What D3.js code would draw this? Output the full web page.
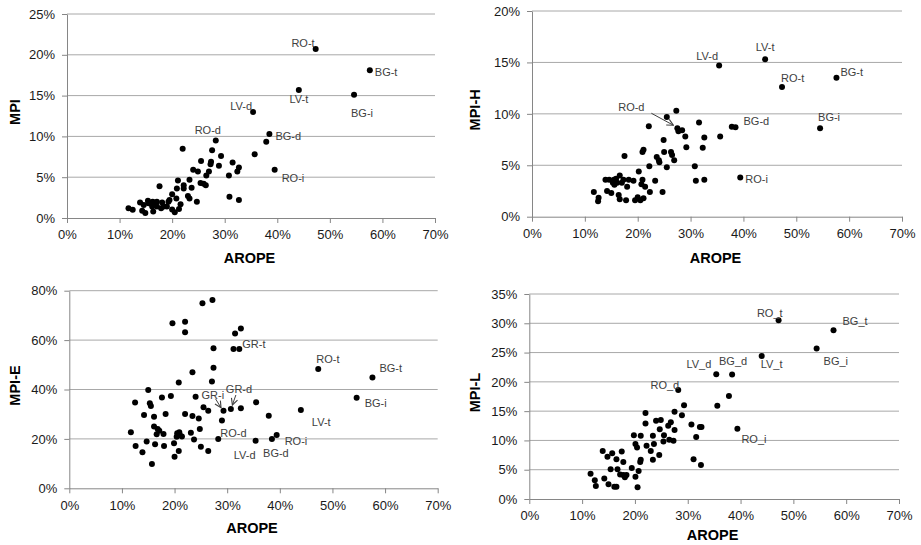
<!DOCTYPE html>
<html>
<head>
<meta charset="utf-8">
<script src="https://cdn.jsdelivr.net/npm/d3@7"></script>
<style>
  body { margin: 0; background: #fff; }
  svg { display: block; font-family: "Liberation Sans", Arial, sans-serif; }
  .tick text { font-size: 13px; fill: #1a1a1a; }
  .axis-title { font-size: 14.5px; font-weight: bold; fill: #000; }
  .pt-label { font-size: 11px; fill: #404040; }
</style>
</head>
<body>
<div id="chart"></div>
<script>
// values in percent, [AROPE, indicator]
const mpiPoints = [
  [11.7, 1.2], [12.5, 1.0], [13.9, 1.9], [14.3, 0.9], [14.6, 1.6], [14.9, 0.6], [15.4, 2.1], [15.5, 1.8],
  [16.2, 1.4], [16.3, 2.0], [16.4, 0.8], [16.5, 1.6], [17.1, 2.0], [17.1, 1.4], [17.6, 3.9], [17.9, 1.2],
  [18.1, 1.9], [18.4, 1.4], [19.0, 1.4], [19.3, 2.0], [19.5, 2.2], [20.0, 2.9], [20.0, 1.05], [20.5, 0.7],
  [20.8, 2.4], [20.9, 3.6], [21.1, 4.6], [21.3, 1.1], [21.6, 1.7], [22.0, 8.5], [22.2, 4.0], [22.2, 3.6],
  [23.0, 2.7], [23.3, 2.4], [23.3, 4.7], [23.7, 3.7], [24.0, 5.9], [24.7, 2.0], [24.9, 5.7], [25.4, 4.3],
  [25.5, 7.0], [26.0, 4.2], [26.4, 4.0], [26.5, 5.2], [27.0, 5.7], [27.3, 6.6], [27.4, 6.9], [27.6, 8.3],
  [28.3, 9.5], [28.9, 6.4], [29.3, 7.6], [30.8, 5.2], [30.9, 2.6], [31.5, 6.8], [32.4, 5.7], [32.7, 6.2],
  [32.7, 2.2], [35.4, 13.0], [35.7, 7.8], [37.9, 9.35], [38.5, 10.3], [39.5, 5.9], [44.1, 15.7],
  [47.3, 20.7], [54.6, 15.1], [57.6, 18.1]
];
const mpiLabels = [
  ['RO-t', 47.3, 20.7], ['BG-t', 57.6, 18.1], ['LV-t', 44.1, 15.7], ['BG-i', 54.6, 15.1],
  ['LV-d', 35.4, 13.0], ['RO-d', 28.3, 9.5], ['BG-d', 38.5, 10.3], ['RO-i', 39.5, 5.9]
];

const mpiHPoints = [
  [11.7, 2.4], [12.5, 1.5], [12.6, 1.85], [13.9, 3.6], [14.2, 2.5], [14.6, 3.6], [15.0, 2.3], [15.3, 3.3],
  [15.5, 3.6], [15.6, 3.1], [15.9, 3.7], [16.1, 3.3], [16.4, 2.1], [16.6, 4.0], [16.6, 1.7], [17.0, 3.3],
  [17.3, 3.6], [17.5, 5.9], [17.8, 1.6], [18.0, 2.9], [18.3, 3.6], [19.2, 3.5], [19.5, 1.6], [20.0, 1.9],
  [20.2, 4.4], [20.5, 1.6], [20.7, 3.15], [20.9, 3.6], [20.9, 6.3], [21.1, 6.5], [21.1, 1.8], [21.4, 2.9],
  [22.1, 8.8], [22.2, 4.9], [22.3, 2.4], [23.3, 3.5], [23.6, 5.8], [24.0, 5.5], [24.1, 5.3], [24.7, 2.4],
  [24.9, 7.45], [25.0, 6.3], [25.5, 4.8], [25.5, 9.7], [26.3, 6.3], [26.5, 6.0], [26.9, 5.5], [27.3, 10.3],
  [27.5, 8.6], [27.7, 8.3], [28.4, 8.4], [29.0, 7.8], [29.2, 6.75], [30.8, 4.9], [31.0, 3.5], [31.6, 9.15],
  [32.3, 6.7], [32.6, 7.7], [32.6, 3.6], [35.4, 14.7], [35.6, 7.8], [37.8, 8.75], [38.5, 8.7], [39.4, 3.8],
  [44.1, 15.3], [47.3, 12.6], [54.5, 8.6], [57.6, 13.5]
];
const mpiHLabels = [
  ['RO-d', 27.5, 8.6], ['LV-d', 35.4, 14.7], ['LV-t', 44.1, 15.3], ['RO-t', 47.3, 12.6],
  ['BG-t', 57.6, 13.5], ['BG-d', 38.5, 8.7], ['BG-i', 54.5, 8.6], ['RO-i', 39.4, 3.8]
];

const mpiEPoints = [
  [11.7, 22.7], [12.5, 34.7], [12.6, 17.1], [13.9, 14.6], [14.2, 29.7], [14.7, 18.9], [15.0, 39.8], [15.3, 34.4],
  [15.5, 33.3], [15.7, 9.8], [16.1, 29.0], [16.1, 25.0], [16.3, 17.8], [16.6, 21.9], [16.8, 24.0], [17.1, 23.3],
  [17.6, 36.8], [17.9, 22.0], [18.0, 17.1], [18.3, 30.1], [19.3, 37.4], [19.6, 66.8], [19.9, 18.2], [20.0, 12.8],
  [20.4, 20.9], [20.5, 22.3], [20.8, 15.1], [20.8, 42.8], [20.9, 22.7], [21.0, 21.6], [21.4, 21.0], [22.0, 67.4],
  [22.0, 63.2], [22.0, 30.1], [23.1, 22.5], [23.4, 47.0], [23.4, 29.3], [23.7, 19.8], [24.0, 37.1], [24.6, 28.3],
  [24.8, 24.0], [25.0, 16.8], [25.3, 74.9], [25.5, 32.8], [26.4, 31.4], [26.4, 15.1], [27.2, 76.2], [27.4, 56.7],
  [27.1, 43.2], [27.4, 48.8], [28.3, 20.0], [29.0, 27.4], [29.3, 31.4], [30.7, 32.1], [31.2, 56.4], [31.5, 62.7],
  [32.3, 56.4], [32.6, 64.7], [32.6, 32.4], [35.4, 19.3], [35.5, 34.8], [37.9, 29.4], [38.5, 20.0], [39.4, 21.6],
  [44.0, 31.7], [47.3, 48.3], [54.6, 36.7], [57.6, 44.9]
];
const mpiELabels = [
  ['GR-t', 32.3, 56.4], ['RO-t', 47.3, 48.3], ['BG-t', 57.6, 44.9], ['BG-i', 54.6, 36.7],
  ['LV-t', 44.0, 31.7], ['GR-d', 30.7, 32.1], ['GR-i', 29.3, 31.4], ['RO-d', 28.3, 20.0],
  ['LV-d', 35.4, 19.3], ['BG-d', 38.5, 20.0], ['RO-i', 39.4, 21.6]
];

const mpiLPoints = [
  [11.6, 4.3], [12.4, 3.2], [12.6, 2.2], [13.9, 8.2], [14.2, 3.5], [14.8, 7.2], [15.0, 2.5], [15.4, 5.1],
  [15.7, 7.8], [16.1, 2.1], [16.5, 2.1], [16.5, 6.8], [16.7, 5.1], [17.2, 4.2], [17.5, 8.1], [17.8, 6.3],
  [17.8, 4.1], [18.1, 3.7], [18.4, 4.1], [19.4, 5.3], [19.8, 10.9], [20.1, 3.8], [20.1, 9.4], [20.4, 8.8],
  [20.5, 2.0], [20.7, 4.8], [21.0, 6.3], [21.1, 6.7], [21.1, 10.8], [22.0, 14.7], [22.0, 12.9], [22.2, 9.1],
  [23.0, 8.2], [23.4, 10.8], [23.4, 6.7], [23.6, 9.4], [24.0, 13.35], [24.6, 7.5], [24.7, 11.9], [24.9, 13.5],
  [25.4, 9.8], [25.5, 10.9], [26.3, 12.5], [26.5, 10.1], [26.8, 13.1], [27.3, 9.95], [27.5, 11.8], [27.5, 14.9],
  [28.2, 18.6], [28.9, 14.3], [29.3, 16.0], [30.7, 12.7], [31.1, 6.8], [31.6, 10.6], [32.3, 12.3], [32.6, 12.3],
  [32.5, 5.8], [35.4, 21.3], [35.6, 15.9], [37.8, 17.6], [38.4, 21.25], [39.4, 12.0], [44.0, 24.4],
  [47.2, 30.5], [54.4, 25.7], [57.6, 28.8]
];
const mpiLLabels = [
  ['RO_d', 28.2, 18.6], ['RO_t', 47.2, 30.5], ['BG_t', 57.6, 28.8], ['BG_i', 54.4, 25.7],
  ['LV_t', 44.0, 24.4], ['LV_d', 35.4, 21.3], ['BG_d', 38.4, 21.25], ['RO_i', 39.4, 12.0]
];

const xTicks = [0, 10, 20, 30, 40, 50, 60, 70];

// layout of the four panels
const panels = [
  {
    points: mpiPoints, labels: mpiLabels, title: 'MPI', yMax: 25, yStep: 5,
    left: 67, right: 435, bottom: 218, top: 14, titleX: 15, xTitleDy: 45,
    place: {
      'RO-t': ['end', -1, -2], 'BG-t': ['start', 5, 6], 'LV-t': ['middle', 0, 13], 'BG-i': ['middle', 8, 22],
      'LV-d': ['end', -1, -2], 'RO-d': ['middle', -8, -6], 'BG-d': ['start', 6, 6], 'RO-i': ['start', 7, 12],
    },
    arrows: {},
  },
  {
    points: mpiHPoints, labels: mpiHLabels, title: 'MPI-H', yMax: 20, yStep: 5,
    left: 532, right: 902, bottom: 216.7, top: 11, titleX: 475, xTitleDy: 46,
    place: {
      'RO-d': ['middle', -46, -17], 'LV-d': ['end', -1, -6], 'LV-t': ['middle', 0, -8], 'RO-t': ['start', -1, -5],
      'BG-t': ['start', 4, -2], 'BG-d': ['start', 8, -2], 'BG-i': ['start', -2, -7], 'RO-i': ['start', 5, 5],
    },
    arrows: { 'RO-d': [-26, -15, -4, -3] },
  },
  {
    points: mpiEPoints, labels: mpiELabels, title: 'MPI-E', yMax: 80, yStep: 20,
    left: 69.3, right: 437.7, bottom: 488.3, top: 290.7, titleX: 15, xTitleDy: 45,
    place: {
      'GR-t': ['start', 3, -1], 'RO-t': ['start', -2, -6], 'BG-t': ['start', 7, -5], 'BG-i': ['start', 8, 9],
      'LV-t': ['start', 11, 16], 'GR-d': ['start', -5, -16], 'GR-i': ['start', -22, -12], 'RO-d': ['start', 2, -2],
      'LV-d': ['end', 0, 18], 'BG-d': ['middle', 4, 18], 'RO-i': ['start', 8, 10],
    },
    arrows: { 'GR-d': [5, -14, 1.5, -4], 'GR-i': [-8, -12, -2.5, -3] },
  },
  {
    points: mpiLPoints, labels: mpiLLabels, title: 'MPI-L', yMax: 35, yStep: 5,
    left: 529.3, right: 899, bottom: 499, top: 294, titleX: 475, xTitleDy: 41,
    place: {
      'RO_d': ['end', 1, -1], 'RO_t': ['end', 4, -3], 'BG_t': ['start', 9, -5], 'BG_i': ['start', 7, 17],
      'LV_t': ['start', -1, 12], 'LV_d': ['end', -5, -6], 'BG_d': ['middle', 1, -10], 'RO_i': ['start', 4, 14],
    },
    arrows: {},
  },
];

const width = 921;
const height = 545;

const svg = d3.select('#chart')
  .append('svg')
  .attr('width', width)
  .attr('height', height);

svg.append('defs').append('marker')
  .attr('id', 'arrowhead')
  .attr('viewBox', '0 0 10 10')
  .attr('refX', 9)
  .attr('refY', 5)
  .attr('markerWidth', 8)
  .attr('markerHeight', 8)
  .attr('orient', 'auto')
  .append('path')
  .attr('d', 'M1,1 L9,5 L1,9')
  .attr('fill', 'none')
  .attr('stroke', '#404040')
  .attr('stroke-width', 1.4);

const pct = (v) => `${v}%`;

panels.forEach((p) => {
  const x = d3.scaleLinear().domain([0, 70]).range([p.left, p.right]);
  const y = d3.scaleLinear().domain([0, p.yMax]).range([p.bottom, p.top]);
  const yTicks = d3.range(0, p.yMax + 0.001, p.yStep);
  const g = svg.append('g');

  // horizontal gridlines
  g.selectAll('line.grid')
    .data(yTicks.filter((t) => t > 0))
    .enter()
    .append('line')
    .attr('class', 'grid')
    .attr('x1', p.left)
    .attr('x2', p.right)
    .attr('y1', (d) => y(d))
    .attr('y2', (d) => y(d))
    .attr('stroke', '#a8a8a8')
    .attr('stroke-width', 1);

  const xAxis = g.append('g')
    .attr('transform', `translate(0,${p.bottom})`)
    .call(d3.axisBottom(x).tickValues(xTicks).tickFormat(pct).tickSize(5).tickSizeOuter(0).tickPadding(7));
  const yAxis = g.append('g')
    .attr('transform', `translate(${p.left},0)`)
    .call(d3.axisLeft(y).tickValues(yTicks).tickFormat(pct).tickSize(5).tickSizeOuter(0).tickPadding(7));
  [xAxis, yAxis].forEach((a) => {
    a.select('.domain').attr('stroke', '#868686');
    a.selectAll('.tick line').attr('stroke', '#868686');
    a.selectAll('.tick text').attr('font-family', null).attr('font-size', null);
  });

  // axis titles
  g.append('text')
    .attr('class', 'axis-title')
    .attr('x', (p.left + p.right) / 2 - 1.5)
    .attr('y', p.bottom + p.xTitleDy)
    .attr('text-anchor', 'middle')
    .text('AROPE');
  g.append('text')
    .attr('class', 'axis-title')
    .attr('transform', `translate(${p.titleX + 5},${(p.top + p.bottom) / 2 - 4}) rotate(-90)`)
    .attr('text-anchor', 'middle')
    .text(p.title);

  // points
  g.selectAll('circle.pt')
    .data(p.points)
    .enter()
    .append('circle')
    .attr('class', 'pt')
    .attr('cx', (d) => x(d[0]))
    .attr('cy', (d) => y(d[1]))
    .attr('r', 3)
    .attr('fill', '#000');

  // point labels
  g.selectAll('text.pt-label')
    .data(p.labels)
    .enter()
    .append('text')
    .attr('class', 'pt-label')
    .attr('text-anchor', (d) => p.place[d[0]][0])
    .attr('x', (d) => x(d[1]) + p.place[d[0]][1])
    .attr('y', (d) => y(d[2]) + p.place[d[0]][2])
    .text((d) => d[0]);

  // leader arrows
  g.selectAll('line.leader')
    .data(p.labels.filter((d) => p.arrows[d[0]]))
    .enter()
    .append('line')
    .attr('class', 'leader')
    .attr('x1', (d) => x(d[1]) + p.arrows[d[0]][0])
    .attr('y1', (d) => y(d[2]) + p.arrows[d[0]][1])
    .attr('x2', (d) => x(d[1]) + p.arrows[d[0]][2])
    .attr('y2', (d) => y(d[2]) + p.arrows[d[0]][3])
    .attr('stroke', '#404040')
    .attr('stroke-width', 1)
    .attr('marker-end', 'url(#arrowhead)');
});
</script>
</body>
</html>
